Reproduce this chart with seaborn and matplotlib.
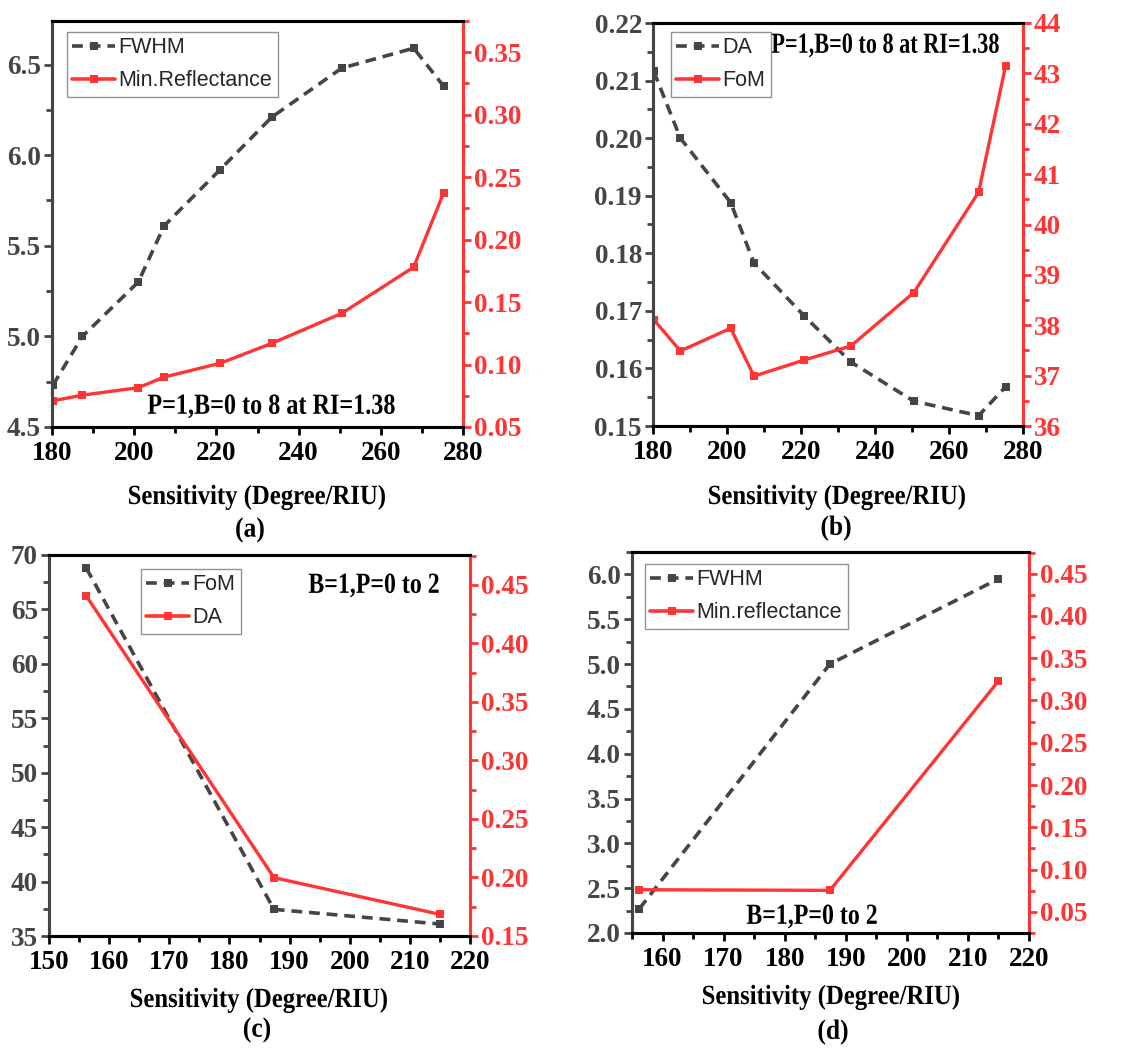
import matplotlib
matplotlib.use("Agg")
import matplotlib.pyplot as plt
from matplotlib.ticker import MultipleLocator, AutoMinorLocator, FormatStrFormatter
from matplotlib.lines import Line2D
from matplotlib.patheffects import AbstractPathEffect
from matplotlib.transforms import Affine2D
import seaborn as sns
import numpy as np

sns.set_style("ticks")
plt.rcParams['font.family'] = ['Liberation Serif', 'DejaVu Serif']

GRAY = '#454545'
RED = '#ff3535'

# ---------------- data ----------------
# (a) P=1, B=0 to 8 at RI=1.38
sens_a = [180.2, 187.4, 201.0, 207.3, 220.9, 233.5, 250.5, 268.0, 275.3]
fwhm_a = [4.73, 5.00, 5.30, 5.61, 5.92, 6.21, 6.48, 6.59, 6.38]
minref_a = [0.071, 0.0755, 0.0815, 0.090, 0.101, 0.117, 0.141, 0.178, 0.2375]

# (b) P=1, B=0 to 8 at RI=1.38
sens_b = [180.2, 187.4, 201.0, 207.3, 220.9, 233.5, 250.5, 268.0, 275.3]
da_b = [0.2116, 0.2000, 0.1888, 0.1783, 0.1691, 0.1611, 0.1543, 0.1518, 0.1568]
fom_b = [38.11, 37.49, 37.94, 36.99, 37.31, 37.59, 38.65, 40.64, 43.15]

# (c) B=1, P=0 to 2
sens_c = [156.2, 187.4, 215.0]
fom_c = [68.8, 37.45, 36.1]
da_c = [0.4406, 0.1999, 0.1685]

# (d) B=1, P=0 to 2
sens_d = [156.2, 187.4, 215.0]
fwhm_d = [2.27, 5.00, 5.95]
minref_d = [0.0762, 0.0754, 0.323]

XLABEL = 'Sensitivity (Degree/RIU)'

W, H = 1142, 1056
fig = plt.figure(figsize=(W / 100, H / 100), dpi=100)


class Stretch(AbstractPathEffect):
    """Stretch a text vertically about its own centre (condensed, tall look)."""

    def __init__(self, sy):
        super().__init__()
        self.sy = sy

    def draw_path(self, renderer, gc, tpath, affine, rgbFace=None):
        ext = tpath.get_extents()
        cy = (ext.y0 + ext.y1) / 2
        t = Affine2D().translate(0, -cy).scale(1, self.sy).translate(0, cy) + affine
        renderer.draw_path(gc, tpath, t, rgbFace)


def rect(l, r, t, b):
    return [l / W, 1 - b / H, (r - l) / W, (b - t) / H]


TICK_FS = 19.5
LAB_FS = 17.8
CAP_FS = 18.4
LEG_FS = 15.5


def panel(pos, x, yl, yr, lab_l, lab_r, xlim, ylim_l, ylim_r, xmaj, lmaj, rmaj,
          lfmt, rfmt, leg_pos, note, note_xy, note_fs, cap, cap_xy, xlab_xy):
    ax = fig.add_axes(rect(*pos))
    ax2 = ax.twinx()
    sns.lineplot(x=x, y=yl, ax=ax, color=GRAY, marker='s', markersize=6,
                 markeredgewidth=0, linewidth=2.6, linestyle=(0, (3, 1.9)))
    sns.lineplot(x=x, y=yr, ax=ax2, color=RED, marker='s', markersize=6,
                 markeredgewidth=0, linewidth=2.4)
    ax.set_xlim(*xlim)
    ax.set_ylim(*ylim_l)
    ax2.set_ylim(*ylim_r)
    ax.xaxis.set_major_locator(MultipleLocator(xmaj))
    ax.xaxis.set_minor_locator(AutoMinorLocator(2))
    ax.yaxis.set_major_locator(MultipleLocator(lmaj))
    ax.yaxis.set_minor_locator(AutoMinorLocator(2))
    ax2.yaxis.set_major_locator(MultipleLocator(rmaj))
    ax2.yaxis.set_minor_locator(AutoMinorLocator(2))
    ax.yaxis.set_major_formatter(FormatStrFormatter(lfmt))
    ax2.yaxis.set_major_formatter(FormatStrFormatter(rfmt))
    ax.set_xlabel('')
    ax.set_ylabel('')
    ax2.set_ylabel('')

    for a in (ax, ax2):
        for s in a.spines.values():
            s.set_linewidth(2.2)
        a.spines['top'].set_color('black')
        a.spines['bottom'].set_color('black')
        a.spines['left'].set_color(GRAY)
        a.spines['right'].set_color(RED)

    ax.tick_params(axis='x', which='major', direction='out', length=6, width=2,
                   labelsize=TICK_FS, colors='black', pad=4)
    ax.tick_params(axis='x', which='minor', direction='out', length=4, width=2, colors='black')
    ax.tick_params(axis='y', which='major', direction='out', length=6, width=2,
                   labelsize=TICK_FS, colors=GRAY, pad=2)
    ax.tick_params(axis='y', which='minor', direction='out', length=4, width=2, colors=GRAY)
    ax2.tick_params(axis='y', which='major', direction='out', length=6, width=2,
                    labelsize=TICK_FS, colors=RED, pad=2)
    ax2.tick_params(axis='y', which='minor', direction='out', length=4, width=2, colors=RED)
    for lbl in ax.get_xticklabels() + ax.get_yticklabels() + ax2.get_yticklabels():
        lbl.set_fontweight('bold')

    handles = [
        Line2D([], [], color=GRAY, marker='s', markersize=6, markeredgewidth=0,
               linewidth=2.6, linestyle=(0, (3, 1.9))),
        Line2D([], [], color=RED, marker='s', markersize=6, markeredgewidth=0,
               linewidth=2.6),
    ]
    leg = ax2.legend(handles, [lab_l, lab_r], loc='upper left',
                     bbox_to_anchor=(leg_pos[0] / W, 1 - leg_pos[1] / H),
                     bbox_transform=fig.transFigure,
                     prop={'family': ['Liberation Sans'], 'size': LEG_FS},
                     frameon=True, fancybox=False, handlelength=2.0,
                     handletextpad=0.15, borderpad=0.25, labelspacing=0.55,
                     borderaxespad=0)
    leg.get_frame().set_edgecolor('#777777')
    leg.get_frame().set_linewidth(1.0)

    fig.text(note_xy[0] / W, 1 - note_xy[1] / H, note, ha='center', va='center',
             fontsize=note_fs, fontweight='bold', color='black',
             path_effects=[Stretch(21.0 / note_fs)])
    fig.text(xlab_xy[0] / W, 1 - xlab_xy[1] / H, XLABEL, ha='center', va='center',
             fontsize=LAB_FS, fontweight='bold', color='black',
             path_effects=[Stretch(1.12)])
    fig.text(cap_xy[0] / W, 1 - cap_xy[1] / H, cap, ha='center', va='center',
             fontsize=CAP_FS, fontweight='bold', color='black',
             path_effects=[Stretch(1.09)])
    return ax, ax2


panel((52, 463, 21, 427), sens_a, fwhm_a, minref_a, 'FWHM', 'Min.Reflectance',
      (180, 280), (4.5, 6.74), (0.05, 0.375), 20, 0.5, 0.05, '%.1f', '%.2f',
      (67, 32), 'P=1,B=0 to 8 at RI=1.38', (271, 407), 17.4, '(a)', (250, 530), (257, 497))

panel((653, 1023, 23, 426), sens_b, da_b, fom_b, 'DA', 'FoM',
      (180, 280), (0.15, 0.22), (36, 44), 20, 0.01, 1, '%.2f', '%d',
      (671, 32), 'P=1,B=0 to 8 at RI=1.38', (886, 46), 16.0, '(b)', (836, 528), (837, 497))

panel((49, 470, 555, 936), sens_c, fom_c, da_c, 'FoM', 'DA',
      (150, 220), (35, 70), (0.15, 0.4756), 10, 5, 0.05, '%d', '%.2f',
      (141, 569), 'B=1,P=0 to 2', (374, 586), 17.2, '(c)', (257, 1030), (259, 1000))

panel((632, 1029, 552, 933), sens_d, fwhm_d, minref_d, 'FWHM', 'Min.reflectance',
      (155, 220), (2.0, 6.25), (0.025, 0.4756), 10, 0.5, 0.05, '%.1f', '%.2f',
      (645, 564), 'B=1,P=0 to 2', (812, 917), 17.2, '(d)', (833, 1032), (831, 997))

fig.savefig('out.png', dpi=100)
